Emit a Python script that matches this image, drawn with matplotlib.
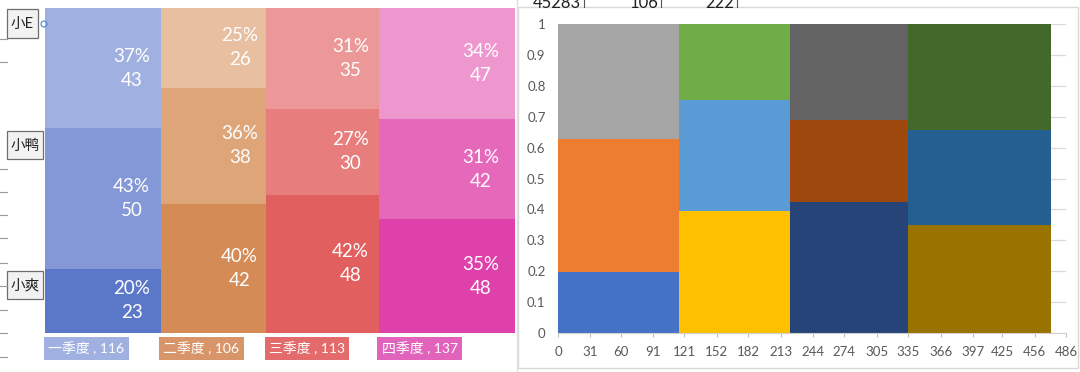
import matplotlib
matplotlib.use('Agg')
import matplotlib.pyplot as plt
from matplotlib.patches import Rectangle, Circle
import numpy as np

plt.rcParams['font.family'] = ['Lato', 'Noto Sans CJK SC', 'DejaVu Sans']

# ---------------- data ----------------
quarters = ['一季度', '二季度', '三季度', '四季度']
quarter_totals = [116, 106, 113, 137]
people = ['小爽', '小鸭', '小E']          # bottom -> top
xiaoshuang = [23, 42, 48, 48]
xiaoya = [50, 38, 30, 42]
xiao_e = [43, 26, 35, 47]
month_ticks = [0, 31, 60, 91, 121, 152, 182, 213, 244, 274, 305, 335, 366, 397, 425, 456, 486]
header_cells = ['45283', '106', '222']

# ---------------- styles ----------------
left_colors = [
    ['#5B78C8', '#8497D6', '#A0B0E0'],
    ['#D48B55', '#DEA579', '#E8BFA1'],
    ['#E15F5F', '#E87D7D', '#EC9898'],
    ['#DE41A9', '#E668BA', '#EE97CE'],
]
label_box_colors = ['#A0B0E0', '#D9956A', '#E46B6B', '#E263BB']
excel_colors = [
    ['#4472C4', '#ED7D31', '#A5A5A5'],
    ['#FFC000', '#5B9BD5', '#70AD47'],
    ['#264478', '#9E480E', '#636363'],
    ['#997300', '#255E91', '#43682B'],
]

W, H = 1080, 372
fig = plt.figure(figsize=(W / 100, H / 100), dpi=100)


def rect(px_left, px_top, px_w, px_h):
    return [px_left / W, 1 - (px_top + px_h) / H, px_w / W, px_h / H]


series = [xiaoshuang, xiaoya, xiao_e]
totals = np.array(quarter_totals, dtype=float)
lefts = np.concatenate([[0], np.cumsum(totals)[:-1]])
shares = np.array(series, dtype=float) / totals
bottoms = np.vstack([np.zeros(len(totals)), np.cumsum(shares, axis=0)[:-1]])

# ---------------- left panel ----------------
axL = fig.add_axes(rect(45, 8, 470, 325))
axL.set_xlim(0, totals.sum())
axL.set_ylim(0, 1)
axL.axis('off')
for q in range(len(quarters)):
    for s in range(len(series)):
        axL.bar(lefts[q], shares[s, q], width=totals[q], bottom=bottoms[s, q],
                align='edge', color=left_colors[q][s], linewidth=0)
        axL.text(lefts[q] + 0.75 * totals[q], bottoms[s, q] + shares[s, q] / 2,
                 f"{round(shares[s, q] * 100)}%\n{series[s][q]}",
                 ha='center', va='center', color='white', fontsize=13.5,
                 linespacing=1.5)
    axL.text(lefts[q] + 3, -0.047, f"{quarters[q]} , {quarter_totals[q]}",
             ha='left', va='center', color='white', fontsize=10, clip_on=False,
             bbox=dict(boxstyle='square,pad=0.32', fc=label_box_colors[q], ec='none'))

# ---------------- right panel ----------------
axR = fig.add_axes(rect(558, 24, 508, 309))
axR.set_xlim(0, month_ticks[-1])
axR.set_ylim(0, 1)
for q in range(len(quarters)):
    for s in range(len(series)):
        axR.bar(lefts[q], shares[s, q], width=totals[q], bottom=bottoms[s, q],
                align='edge', color=excel_colors[q][s], linewidth=0)
yt = np.round(np.arange(0, 1.01, 0.1), 1)
axR.set_yticks(yt)
axR.set_yticklabels([f"{v:g}" for v in yt])
axR.set_xticks(month_ticks)
axR.set_xticklabels([str(v) for v in month_ticks])
axR.set_axisbelow(True)
axR.grid(axis='y', color='#D9D9D9', linewidth=0.9)
for sp in ['top', 'right', 'left']:
    axR.spines[sp].set_visible(False)
axR.spines['bottom'].set_color('#D0D0D0')
axR.tick_params(axis='y', length=0, pad=9, labelsize=9.5, labelcolor='#595959')
axR.tick_params(axis='x', length=3, width=0.8, color='#BFBFBF', pad=6,
                labelsize=9.5, labelcolor='#595959')

# ---------------- decorations (pixel overlay) ----------------
ov = fig.add_axes([0, 0, 1, 1])
ov.set_xlim(0, W)
ov.set_ylim(H, 0)
ov.axis('off')
ov.patch.set_alpha(0)

# right chart frame
ov.add_patch(Rectangle((518, 7), 560, 361, fill=False, ec='#D9D9D9', lw=1))
ov.plot([516.5, 516.5], [0, H], color='#E0E0E0', lw=1)

# spreadsheet cells at top (cut by the screenshot edge in the reference)
cell_right = [581, 658, 734]
for txt, xr in zip(header_cells, cell_right):
    ov.text(xr, 8, txt, ha='right', va='baseline', fontsize=12, color='#222222')
    ov.plot([xr + 2.5, xr + 2.5], [0, 7], color='#555555', lw=0.8)

# left stub ticks
tick_y = [39, 62, 169, 192, 215, 238, 263, 286, 310, 333, 357]
for y in tick_y:
    ov.plot([0, 7], [y, y], color='#9A9A9A', lw=0.8)

# series label boxes
box_specs = [(7, 9, 31, 29), (7, 131, 36, 28), (7, 271, 36, 28)]
for name, (bx, by, bw, bh) in zip(people[::-1], box_specs):
    ov.add_patch(Rectangle((bx, by), bw, bh, fc='#F2F2F2', ec='#6E6E6E', lw=0.9))
    ov.text(bx + bw / 2, by + bh / 2 + 0.5, name, ha='center', va='center',
            fontsize=10.5, color='#222222')
ov.add_patch(Circle((44, 24), 3, fill=False, ec='#5B8FD6', lw=0.9))

fig.savefig('out.png', dpi=100)
